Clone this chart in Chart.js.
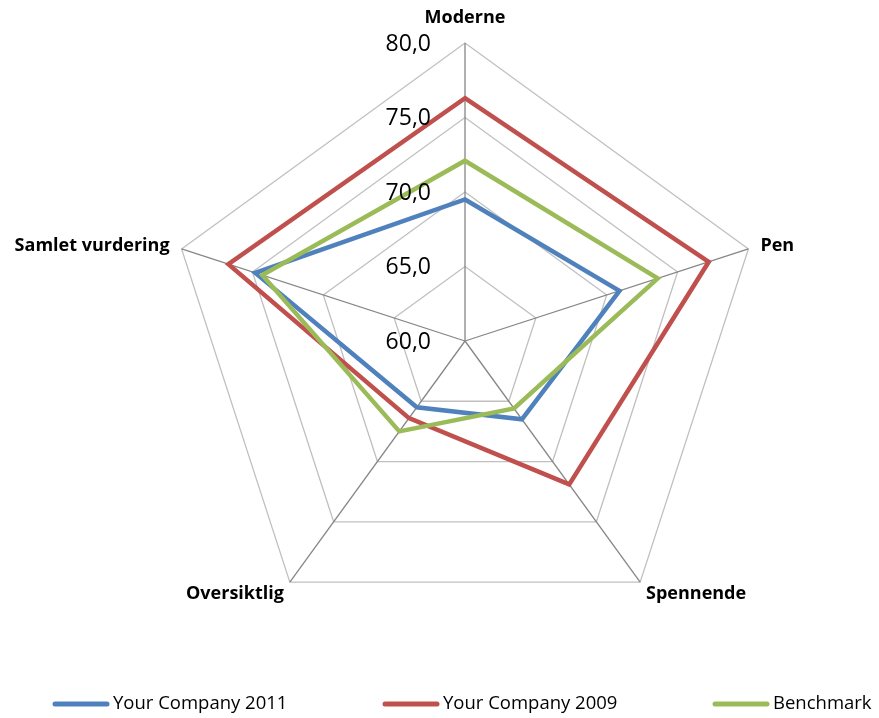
<!DOCTYPE html>
<html>
<head>
<meta charset="utf-8">
<script src="https://cdn.jsdelivr.net/npm/chart.js@4/dist/chart.umd.min.js"></script>
<style>
  html, body { margin: 0; padding: 0; background: #fff; }
  #wrap { width: 879px; height: 718px; position: relative; }
</style>
</head>
<body>
<div id="wrap"><canvas id="myChart"></canvas></div>
<script>
var categories = ['Moderne', 'Pen', 'Spennende', 'Oversiktlig', 'Samlet vurdering'];
var company2011 = [69.5, 70.9, 66.5, 65.5, 74.8];
var company2009 = [76.3, 77.2, 71.9, 66.4, 76.7];
var benchmark = [72.1, 73.6, 65.6, 67.5, 74.3];
var tickLabels = ['60,0', '65,0', '70,0', '75,0', '80,0'];

var FONT = '"Open Sans", "DejaVu Sans", sans-serif';

// value labels left of the top axis (the built-in ones skip the centre tick)
var tickLabelPlugin = {
    id: 'tickLabelPlugin',
    afterDatasetsDraw: function(chart) {
        var scale = chart.scales.r;
        var ctx = chart.ctx;
        ctx.save();
        ctx.font = '23px ' + FONT;
        ctx.fillStyle = '#000';
        ctx.textAlign = 'right';
        ctx.textBaseline = 'middle';
        scale.ticks.forEach(function(t) {
            var d = scale.getDistanceFromCenterForValue(t.value);
            ctx.fillText(t.label, scale.xCenter - 34, scale.yCenter - d + 1);
        });
        ctx.restore();
    }
};

// category names at the outer corners
var pointLabelPlugin = {
    id: 'pointLabelPlugin',
    afterDraw: function(chart) {
        var scale = chart.scales.r;
        var ctx = chart.ctx;
        ctx.save();
        ctx.font = 'bold 18px ' + FONT;
        ctx.fillStyle = '#000';
        ctx.textBaseline = 'middle';
        chart.data.labels.forEach(function(lbl, i) {
            var p = scale.getPointPosition(i, scale.drawingArea);
            var a = scale.getIndexAngle(i);
            var s = Math.sin(a), c = Math.cos(a);
            var x = p.x, y = p.y;
            if (Math.abs(s) < 0.1) {
                ctx.textAlign = 'center';
                y -= 25;
            } else {
                ctx.textAlign = s > 0 ? 'left' : 'right';
                if (c < 0) {
                    x += s * 10;
                    y += 12;
                } else {
                    x += s * 12.6;
                    y -= 3;
                }
            }
            ctx.fillText(lbl, x, y);
        });
        ctx.restore();
    }
};

// legend spread across the bottom
var legendPlugin = {
    id: 'legendPlugin',
    afterDraw: function(chart) {
        var ctx = chart.ctx;
        var y = 704;
        ctx.save();
        ctx.font = '18.5px ' + FONT;
        ctx.textAlign = 'left';
        ctx.textBaseline = 'middle';
        chart.data.datasets.forEach(function(ds, i) {
            var x0 = 55 + i * 330;
            ctx.strokeStyle = ds.borderColor;
            ctx.lineWidth = 5;
            ctx.lineCap = 'round';
            ctx.beginPath();
            ctx.moveTo(x0, y);
            ctx.lineTo(x0 + 52, y);
            ctx.stroke();
            ctx.fillStyle = '#000';
            ctx.fillText(ds.label, x0 + 58, y);
        });
        ctx.restore();
    }
};

const ctx = document.getElementById('myChart').getContext('2d');
const myChart = new Chart(ctx, {
    type: 'radar',
    data: {
        labels: categories,
        datasets: [{
            label: 'Your Company 2011',
            data: company2011,
            borderColor: '#4F81BD',
            backgroundColor: '#4F81BD',
            order: 2
        },
        {
            label: 'Your Company 2009',
            data: company2009,
            borderColor: '#C0504D',
            backgroundColor: '#C0504D',
            order: 1
        },
        {
            label: 'Benchmark',
            data: benchmark,
            borderColor: '#9BBB59',
            backgroundColor: '#9BBB59',
            order: 0
        }]
    },
    options: {
        responsive: true,
        maintainAspectRatio: false,
        animation: false,
        layout: {
            padding: { top: 43, bottom: 79, left: 51, right: 0 }
        },
        elements: {
            line: { borderWidth: 4.5, fill: false, tension: 0, borderJoinStyle: 'miter' },
            point: { radius: 0, hoverRadius: 0 }
        },
        plugins: {
            legend: { display: false },
            tooltip: { enabled: false }
        },
        scales: {
            r: {
                min: 60,
                max: 80,
                beginAtZero: false,
                ticks: {
                    stepSize: 5,
                    display: false,
                    callback: function(value, index) { return tickLabels[index]; }
                },
                grid: { color: '#c0c0c0', lineWidth: 1.3 },
                angleLines: { color: '#868686', lineWidth: 1.3 },
                pointLabels: { display: false }
            }
        }
    },
    plugins: [tickLabelPlugin, pointLabelPlugin, legendPlugin]
});
</script>
</body>
</html>
